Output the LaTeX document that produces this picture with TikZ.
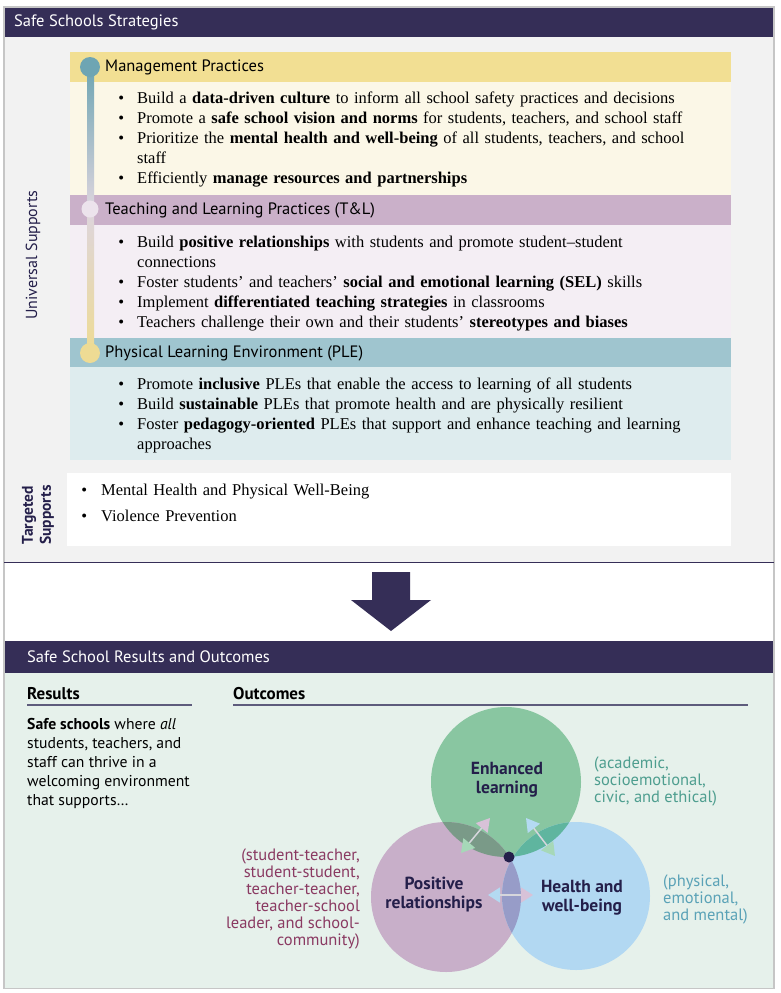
\documentclass[tikz,border=0pt]{standalone}
\usepackage{fontspec}
\setmainfont{Liberation Serif}
\setsansfont{PT Sans}
\usepackage{enumitem}
\usepackage{xcolor}
\usetikzlibrary{arrows.meta,calc}

\definecolor{navy}{HTML}{352E57}
\definecolor{framegray}{HTML}{C6C6C6}
\definecolor{topbg}{HTML}{F2F2F2}
\definecolor{mgmthead}{HTML}{F2DF93}
\definecolor{mgmtbody}{HTML}{FBF7E7}
\definecolor{tlhead}{HTML}{CAB0C9}
\definecolor{tlbody}{HTML}{F4EEF4}
\definecolor{plehead}{HTML}{9FC5CF}
\definecolor{plebody}{HTML}{DEECEE}
\definecolor{linetop}{HTML}{6EA5B3}
\definecolor{linemid}{HTML}{DDD5DE}
\definecolor{linebot}{HTML}{EEDB94}
\definecolor{tlcirc}{HTML}{ECE3EC}
\definecolor{outbg}{HTML}{E6F1EB}
\definecolor{rulecol}{HTML}{5E5C7C}
\definecolor{learnc}{HTML}{89C6A1}
\definecolor{relc}{HTML}{C8AFC9}
\definecolor{healthc}{HTML}{B2D8F2}
\definecolor{lrlens}{HTML}{7A9A88}
\definecolor{lhlens}{HTML}{5FB59F}
\definecolor{rhlens}{HTML}{979CC8}
\definecolor{tiplearn}{HTML}{A6D8B8}
\definecolor{tiprel}{HTML}{D8C2D8}
\definecolor{tiphealth}{HTML}{B4DAF2}
\definecolor{shaftgray}{HTML}{D6D6DC}
\definecolor{learntxt}{HTML}{4E9E8F}
\definecolor{healthtxt}{HTML}{5AA2B7}
\definecolor{reltxt}{HTML}{8A3A62}
\definecolor{vtext}{HTML}{241F4A}

\setlist[itemize]{label=\textbullet, leftmargin=30pt, labelsep=13pt, itemsep=0pt, parsep=0pt, topsep=0pt, partopsep=0pt}

\begin{document}
\begin{tikzpicture}[x=1pt, y=-1pt,
    bartxt/.style={font=\sffamily\fontsize{16.5}{18}\selectfont, text=white, anchor=west, inner sep=0},
    headtxt/.style={font=\sffamily\fontsize{16.5}{18}\selectfont, text=black, anchor=west, inner sep=0},
    itemlist/.style={anchor=north west, inner sep=0, text width=620pt, align=left, font=\fontsize{16.5}{20}\selectfont},
    sidetxt/.style={font=\sffamily\fontsize{16}{17}\selectfont, text=vtext, rotate=90, align=center, inner sep=0},
    venntxt/.style={font=\sffamily\bfseries\fontsize{17.5}{19}\selectfont, text=vtext, align=center, inner sep=0},
    notetxt/.style={font=\sffamily\fontsize{16.5}{17}\selectfont, inner sep=0},
    lensarrow/.style={line width=1.5pt, draw=shaftgray}]
    \useasboundingbox (0,0) rectangle (780,993);
    \fill[white] (0,0) rectangle (780,993);

    % --- strategies box
    \fill[topbg] (4,37) rectangle (774,562);
    \fill[navy] (4,8) rectangle (774,37);
    \node[bartxt] (topbar) at (14,22.5) {Safe Schools Strategies};

    \fill[mgmthead] (70,52) rectangle (731,82);
    \fill[mgmtbody] (70,82) rectangle (731,195);
    \fill[tlhead] (70,195) rectangle (731,225);
    \fill[tlbody] (70,225) rectangle (731,338);
    \fill[plehead] (70,338) rectangle (731,367);
    \fill[plebody] (70,367) rectangle (731,460);

    \shade[top color=linetop, bottom color=linemid] (87,67) rectangle (94,209);
    \shade[top color=linemid, bottom color=linebot] (87,209) rectangle (94,353);
    \fill[linetop] (90,67) circle (10);
    \fill[tlcirc] (90,209) circle (8.5);
    \fill[linebot] (90,353) circle (10);

    \node[headtxt] (mgmthd) at (105,67) {Management Practices};
    \node[headtxt] (tlhd) at (105,210) {Teaching and Learning Practices (T\&L)};
    \node[headtxt] (plehd) at (105,353) {Physical Learning Environment (PLE)};

    \node[itemlist] (mgmtlist) at (107,83.5) {\begin{itemize}
        \item Build a \textbf{data-driven culture} to inform all school safety practices and decisions
        \item Promote a \textbf{safe school vision and norms} for students, teachers, and school staff
        \item Prioritize the \textbf{mental health and well-being} of all students, teachers, and school\newline staff
        \item Efficiently \textbf{manage resources and partnerships}
      \end{itemize}};
    \node[itemlist] (tllist) at (107,227.5) {\begin{itemize}
        \item Build \textbf{positive relationships} with students and promote student--student\newline connections
        \item Foster students' and teachers' \textbf{social and emotional learning (SEL)} skills
        \item Implement \textbf{differentiated teaching strategies} in classrooms
        \item Teachers challenge their own and their students' \textbf{stereotypes and biases}
      \end{itemize}};
    \node[itemlist] (plelist) at (107,369.5) {\begin{itemize}
        \item Promote \textbf{inclusive} PLEs that enable the access to learning of all students
        \item Build \textbf{sustainable} PLEs that promote health and are physically resilient
        \item Foster \textbf{pedagogy-oriented} PLEs that support and enhance teaching and learning\newline approaches
      \end{itemize}};

    \node[sidetxt] (univ) at (33,255) {Universal Supports};

    \fill[white] (67,473) rectangle (731,546);
    \node[sidetxt, font=\sffamily\bfseries\fontsize{15.5}{18}\selectfont] (targ) at (38,515) {Targeted\\Supports};
    \node[itemlist, text width=600pt] (targlist) at (69,475) {\begin{itemize}[leftmargin=32pt, labelsep=14pt, itemsep=6pt]
        \item Mental Health and Physical Well-Being
        \item Violence Prevention
      \end{itemize}};

    % --- arrow
    \fill[navy] (372,572) -- (410,572) -- (410,600) -- (431,600) -- (391,631)
      -- (351,600) -- (372,600) -- cycle;

    % --- results and outcomes box
    \fill[outbg] (4,673) rectangle (774,988);
    \fill[navy] (4,641) rectangle (774,673);
    \node[bartxt] (botbar) at (27,657) {Safe School Results and Outcomes};

    \node[headtxt, anchor=base west, font=\sffamily\bfseries\fontsize{17}{18}\selectfont] (reshd) at (27,699) {Results};
    \node[headtxt, anchor=base west, font=\sffamily\bfseries\fontsize{17}{18}\selectfont] (outhd) at (233,699) {Outcomes};
    \draw[rulecol, line width=2] (27,705) -- (192,705);
    \draw[rulecol, line width=2] (233,705) -- (748,705);

    \node[notetxt, anchor=north west, align=left, font=\sffamily\fontsize{15.7}{19}\selectfont] (restext) at (27,718)
      {\textbf{Safe schools} where \textit{all}\\students, teachers, and\\staff can thrive in a\\welcoming environment\\that supports\ldots};

    % venn
    \fill[learnc] (506,782) circle (75);
    \fill[relc] (446,897) circle (75);
    \fill[healthc] (576,896) circle (74);
    \begin{scope}
      \clip (506,782) circle (75);
      \fill[lrlens] (446,897) circle (75);
      \fill[lhlens] (576,896) circle (74);
    \end{scope}
    \begin{scope}
      \clip (446,897) circle (75);
      \fill[rhlens] (576,896) circle (74);
    \end{scope}

    \coordinate (lrA) at (461,853);
    \coordinate (lrB) at (490,818);
    \coordinate (lhA) at (555,856);
    \coordinate (lhB) at (526,818);
    \coordinate (rhA) at (533,895);
    \coordinate (rhB) at (488,895);
    \draw[lensarrow, {Triangle[length=13pt,width=15pt,color=tiplearn]}-{Triangle[length=13pt,width=15pt,color=tiprel]}] (lrA) -- (lrB);
    \draw[lensarrow, {Triangle[length=13pt,width=15pt,color=tiplearn]}-{Triangle[length=13pt,width=15pt,color=tiphealth]}] (lhA) -- (lhB);
    \draw[lensarrow, {Triangle[length=12pt,width=15pt,color=tiprel]}-{Triangle[length=12pt,width=15pt,color=tiphealth]}] (rhA) -- (rhB);
    \fill[vtext] (509,857) circle (5.5);

    \node[venntxt] (learn) at (507,780) {Enhanced\\learning};
    \node[venntxt] (rel) at (434,895) {Positive\\relationships};
    \node[venntxt] (health) at (582,898) {Health and\\well-being};

    \node[notetxt, text=learntxt, anchor=west, align=left] (learnnote) at (594,781)
      {(academic,\\socioemotional,\\civic, and ethical)};
    \node[notetxt, text=healthtxt, anchor=west, align=left] (healthnote) at (663,899)
      {(physical,\\emotional,\\and mental)};
    \node[notetxt, text=reltxt, anchor=east, align=right] (relnote) at (360,899)
      {(student-teacher,\\student-student,\\teacher-teacher,\\teacher-school\\leader, and school-\\community)};

    % frame
    \draw[framegray, line width=1.5] (4,7) rectangle (774,988.5);
    \draw[navy, line width=1.5] (4,562.5) -- (774,562.5);
\end{tikzpicture}
\end{document}
